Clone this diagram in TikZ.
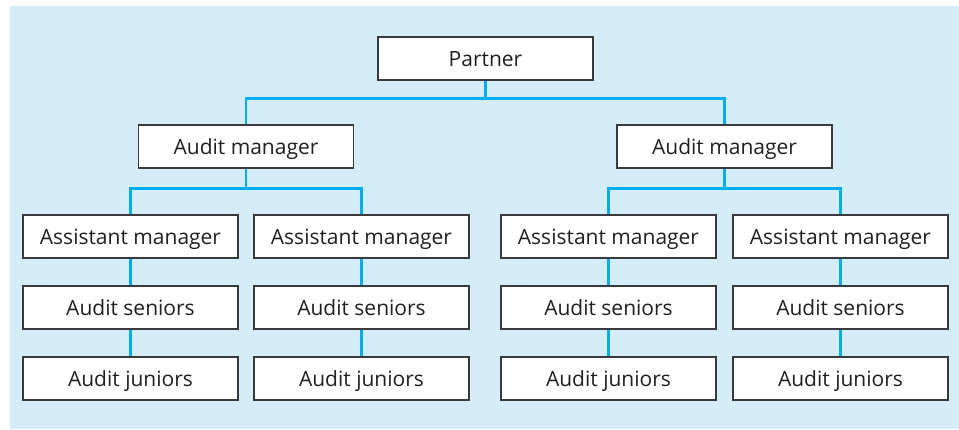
\documentclass[tikz,border=0pt]{standalone}
\usepackage{fontspec}
\setmainfont{Open Sans}
\usetikzlibrary{positioning}
\definecolor{bgblue}{HTML}{D5ECF9}
\definecolor{linkblue}{HTML}{00AEEF}
\definecolor{boxline}{HTML}{3A3A3C}
\definecolor{textgray}{HTML}{231F20}
\tikzset{node distance=35.5pt, auto,
  post/.style={draw=boxline, line width=0.7pt, fill=white, minimum width=107.5pt,
    minimum height=21.5pt, inner sep=0pt, text=textgray,
    text height=8pt, text depth=0pt,
    font=\fontsize{10.5}{12}\selectfont},
  link/.style={draw=linkblue, line width=1.4pt}}

\begin{document}
\begin{tikzpicture}[x=0.5pt,y=-0.5pt]
  \fill[bgblue] (10,6) rectangle (959,429);
  \useasboundingbox (0,0) rectangle (959,429);

  \node[post] (Pt) at (485.5,58.5) {Partner};
  \node[post] (AM1) at (246,146.5) {Audit manager};
  \node[post] (AM2) at (724.5,146.5) {Audit manager};

  \node[post] (AS1) at (130.5,236.5) {Assistant manager};
  \node[post] (AS2) at (361.5,236.5) {Assistant manager};
  \node[post] (AS3) at (608.5,236.5) {Assistant manager};
  \node[post] (AS4) at (840.5,236.5) {Assistant manager};

  \node[post] (S1) [below of=AS1] {Audit seniors};
  \node[post] (S2) [below of=AS2] {Audit seniors};
  \node[post] (S3) [below of=AS3] {Audit seniors};
  \node[post] (S4) [below of=AS4] {Audit seniors};

  \node[post] (J1) [below of=S1] {Audit juniors};
  \node[post] (J2) [below of=S2] {Audit juniors};
  \node[post] (J3) [below of=S3] {Audit juniors};
  \node[post] (J4) [below of=S4] {Audit juniors};

  \coordinate [below=9pt of Pt.south] (Pbar);
  \coordinate [below=10pt of AM1.south] (M1bar);
  \coordinate [below=10pt of AM2.south] (M2bar);

  \draw [link] (Pt.south) -- (Pbar);
  \draw [link] (AM1.north) |- (Pbar) -| (AM2.north);
  \draw [link] (AM1.south) -- (M1bar);
  \draw [link] (AS1.north) |- (M1bar) -| (AS2.north);
  \draw [link] (AM2.south) -- (M2bar);
  \draw [link] (AS3.north) |- (M2bar) -| (AS4.north);

  \foreach \i in {1,2,3,4} {
    \draw [link] (AS\i.south) -- (S\i.north);
    \draw [link] (S\i.south) -- (J\i.north);
  }
\end{tikzpicture}
\end{document}
